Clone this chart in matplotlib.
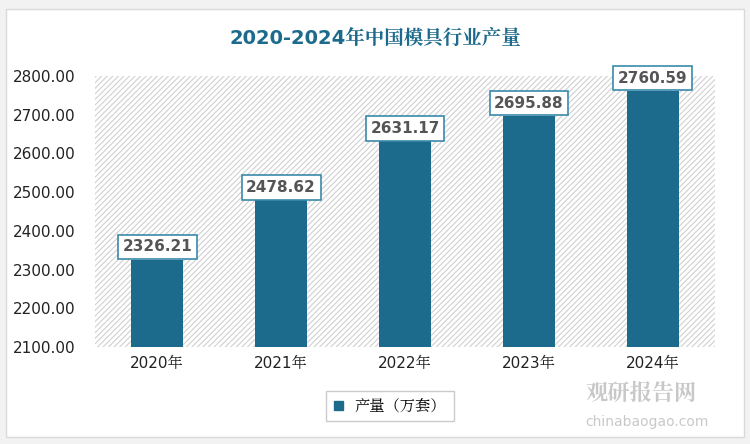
import matplotlib.pyplot as plt
from matplotlib import font_manager
from matplotlib.patches import Rectangle, Patch
import numpy as np
import glob

# locate a CJK font file and register it
cjk_name = None
for f in font_manager.fontManager.ttflist:
    if 'CJK' in f.name and 'SC' in f.name:
        cjk_name = f.name
        break
if cjk_name is None:
    for p in glob.glob('/usr/share/fonts/**/*CJK*', recursive=True):
        font_manager.fontManager.addfont(p)
    for f in font_manager.fontManager.ttflist:
        if 'CJK' in f.name:
            cjk_name = f.name
            break
plt.rcParams['font.family'] = ['DejaVu Sans', cjk_name or 'DejaVu Sans']
plt.rcParams['hatch.color'] = '#d0d0d0'
plt.rcParams['hatch.linewidth'] = 0.8

years = ['2020年', '2021年', '2022年', '2023年', '2024年']
values = [2326.21, 2478.62, 2631.17, 2695.88, 2760.59]
yticks = [2100, 2200, 2300, 2400, 2500, 2600, 2700, 2800]
bar_color = '#1d6b8c'

fig = plt.figure(figsize=(7.5, 4.44), dpi=100)
fig.patch.set_facecolor('#f2f2f2')
card = Rectangle((0.008, 0.015), 0.984, 0.965, transform=fig.transFigure,
                 facecolor='white', edgecolor='#d9d9d9', lw=1, zorder=-10)
fig.patches.append(card)

ax = fig.add_axes([0.127, 0.218, 0.826, 0.611])
ax.patch.set_alpha(0)
ax.add_patch(Rectangle((0, 0), 1, 1, transform=ax.transAxes, facecolor='white',
                       edgecolor='#d0d0d0', hatch='//////', lw=0, zorder=0))

x = np.arange(len(years))
ax.bar(x, [v - 2100 for v in values], bottom=2100, width=0.42, color=bar_color, zorder=2)
for xi, v in zip(x, values):
    ax.text(xi, v + 14, '%.2f' % v, ha='center', va='bottom', fontsize=11, fontweight='bold',
            color='#555555', zorder=3,
            bbox=dict(boxstyle='square,pad=0.3', facecolor='white', edgecolor='#3a8aab', lw=1.2))

ax.set_ylim(2100, 2800)
ax.set_xlim(-0.5, 4.5)
ax.set_yticks(yticks)
ax.set_yticklabels(['%.2f' % t for t in yticks], fontsize=11, color='#222222')
ax.set_xticks(x)
ax.set_xticklabels(years, fontsize=11, color='#222222')
ax.tick_params(length=0, pad=6)
ax.tick_params(axis='y', pad=14)
for s in ax.spines.values():
    s.set_visible(False)

fig.text(0.5, 0.915, '2020-2024年中国模具行业产量', ha='center', va='center',
         fontsize=14, fontweight='bold', color='#1d6b8c')

leg = fig.legend(handles=[Patch(color=bar_color, label='产量（万套）')], loc='center',
                 bbox_to_anchor=(0.52, 0.085), fontsize=11, frameon=True, fancybox=False,
                 handlelength=0.6, handleheight=0.6, borderpad=0.5)
leg.get_frame().set_edgecolor('#bfbfbf')
leg.get_frame().set_linewidth(1)

fig.text(0.78, 0.1, '观研报告网', fontsize=16, fontweight='bold', color='#bbbbbb', alpha=0.8)
fig.text(0.78, 0.04, 'chinabaogao.com', fontsize=10, color='#bbbbbb', alpha=0.8)

fig.savefig('out.png', dpi=100, facecolor=fig.get_facecolor())
